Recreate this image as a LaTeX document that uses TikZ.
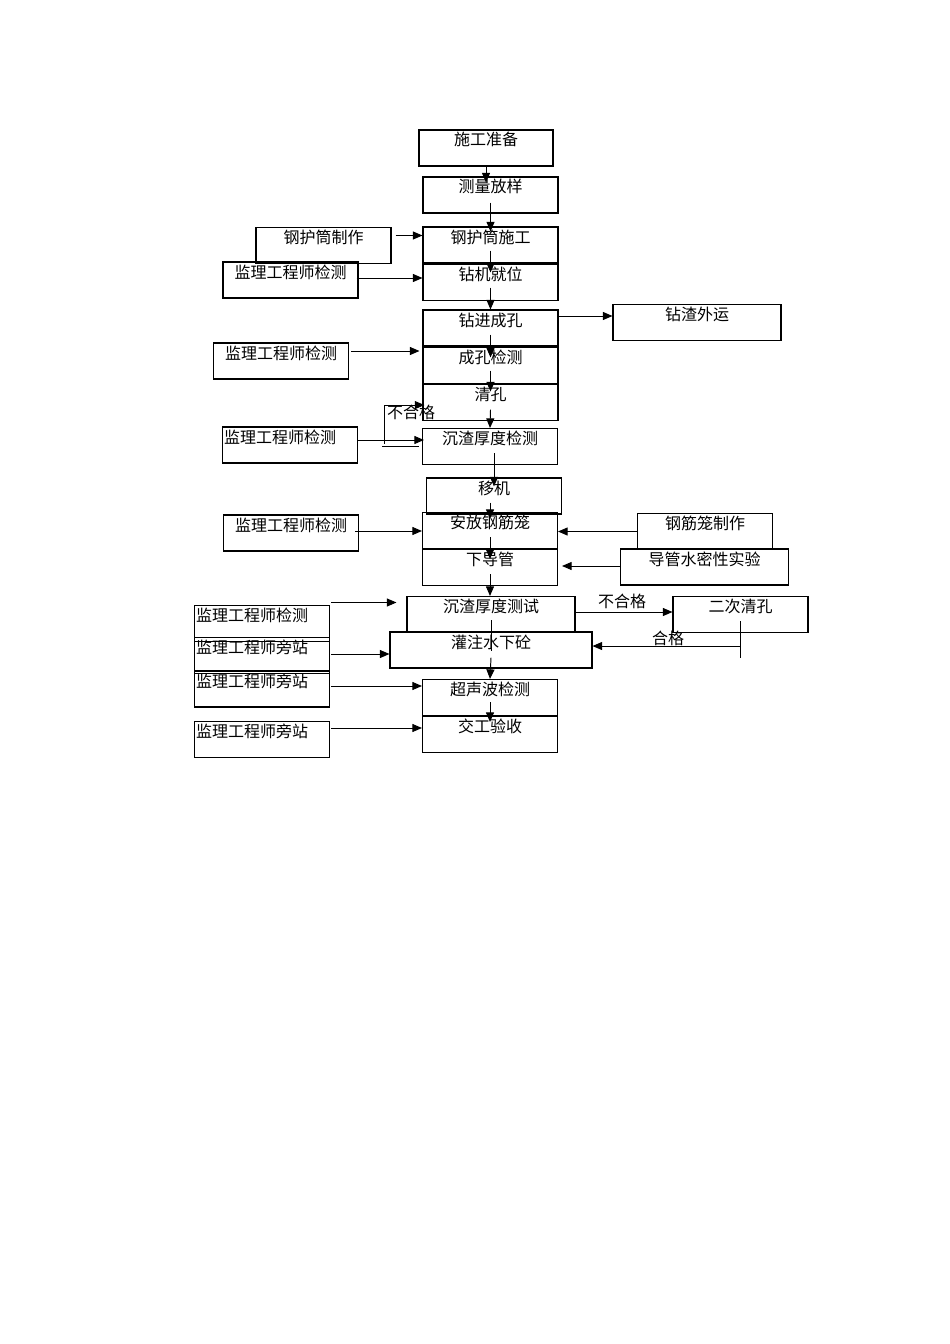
\documentclass[tikz,border=0pt]{standalone}
\usepackage{fontspec}
\newfontfamily\cjk{Noto Sans CJK SC}
\usetikzlibrary{arrows.meta, positioning, calc}
\newlength\px
\setlength\px{0.625pt}

\begin{document}
\begin{tikzpicture}[
    x=0.625pt, y=-0.625pt,
    every node/.style={font=\cjk\fontsize{10}{12}\selectfont},
    box/.style={draw, line width=0.65pt, inner sep=0pt, minimum width=135\px, minimum height=36\px, text height=9pt, text depth=11.5pt},
    wide/.style={box, minimum width=168\px},
    lbox/.style={box, inner xsep=1\px, text width=132\px, align=left},
    arr/.style={-{Triangle[length=6pt,width=5pt]}, line width=0.6pt},
    link/.style={line width=0.6pt}
]
\useasboundingbox (0,0) rectangle (950,1344);

\node[box, minimum width=134\px] (prep) at (486,148) {施工准备};
\node[box] (survey) at (490.5,195) {测量放样};
\node[box] (casing) at (490.5,245) {钢护筒施工};
\node[box, below=0pt of casing] (rig) {钻机就位};
\node[box] (casemake) at (323.5,245.5) {钢护筒制作};
\node[box] (mon1) at (290.5,280) {监理工程师检测};

\node[box] (drill) at (490.5,328) {钻进成孔};
\node[box, below=0pt of drill] (holechk) {成孔检测};
\node[box, below=0pt of holechk] (clean) {清孔};
\node[wide] (spoil) at (697,322.5) {钻渣外运};
\node[box] (mon2) at (281,361) {监理工程师检测};
\node[lbox] (mon3) at (290,445) {监理工程师检测};
\node[box] (sedi) at (490,446.5) {沉渣厚度检测};

\node[box] (move) at (494,496) {移机};
\node[box] (cage) at (490,530.5) {安放钢筋笼};
\node[box, below=0pt of cage] (tube) {下导管};
\node[box] (cagemake) at (705,531.5) {钢筋笼制作};
\node[box] (mon4) at (291,533) {监理工程师检测};
\node[wide] (tubetest) at (704.5,567) {导管水密性实验};

\node[wide] (sedi2) at (491,614.5) {沉渣厚度测试};
\node[box] (reclean) at (740.5,614.5) {二次清孔};
\node[box, minimum width=202\px] (pour) at (491,650) {灌注水下砼};
\node[lbox] (mon5) at (262,623.5) {监理工程师检测};
\node[lbox] (mon6) at (262,655.5) {监理工程师旁站};
\node[lbox] (mon7) at (262,689) {监理工程师旁站};
\node[lbox] (mon8) at (262,739.5) {监理工程师旁站};
\node[box] (ultra) at (490,697.5) {超声波检测};
\node[box, below=0pt of ultra] (accept) {交工验收};

\draw[arr] (prep.south) -- ($(prep.south |- survey.north)+(0,6)$);
\draw[arr] ($(survey.south)+(0,-11)$) -- ($(casing.north)+(0,5)$);
\draw[arr] ($(casing.south)+(0,-13)$) -- ($(rig.north)+(0,9)$);
\draw[arr] ($(rig.south)+(0,-13)$) -- (drill.north);
\draw[arr] ($(drill.south)+(0,-12)$) -- ($(holechk.north)+(0,11)$);
\draw[arr] ($(holechk.south)+(0,-13)$) -- ($(clean.north)+(0,8)$);
\draw[arr] ($(clean.south)+(0,-11)$) -- (sedi.north);
\draw[arr] ($(sedi.south)+(4,-12)$) -- ($(move.north)+(0,9)$);
\draw[arr] ($(move.south)+(-4,-12)$) -- ($(cage.north)+(0,7)$);
\draw[arr] ($(cage.south)+(0,-12)$) -- ($(tube.north)+(0,10)$);
\draw[arr] ($(tube.south)+(0,-12)$) -- (tube.south |- sedi2.north);
\draw[link] ($(sedi2.south)+(0,-13)$) -- ($(pour.north)+(0,20)$);
\draw[arr] ($(pour.south)+(0,-11)$) -- (ultra.north);
\draw[arr] ($(ultra.south)+(0,-14)$) -- ($(accept.north)+(0,6)$);

\draw[arr] ($(casemake.east)+(4,-10)$) coordinate (p1) -- (p1 -| casing.west);
\draw[arr] ($(mon1.east)+(-2,-2)$) coordinate (p2) -- (p2 -| rig.west);
\draw[arr] ($(drill.east)+(0,-12)$) coordinate (p3) -- (p3 -| spoil.west);
\draw[arr] ($(mon2.east)+(2,-10)$) coordinate (p4) -- ($(p4 -| holechk.west)+(-3,0)$);
\draw[arr] ($(mon3.east)+(0,-5)$) coordinate (p5) -- ($(p5 -| sedi.west)+(2,0)$);
\draw[link] ($(sedi.west)+(-3,0)$) -- ++(-37,0);
\draw[arr] ($(sedi.west)+(-38,-3)$) |- ($(clean.west)+(2,3)$);
\node (fail1) at (411,412) {不合格};

\draw[arr] ($(mon4.east)+(-4,-2)$) coordinate (p6) -- (p6 -| cage.west);
\draw[arr] (cagemake.west) -- (cagemake.west -| cage.east);
\draw[arr] ($(tubetest.west)+(0,-1)$) coordinate (p7) -- ($(p7 -| tube.east)+(4,0)$);

\draw[arr] ($(mon5.east)+(1,-21)$) coordinate (p8) -- ($(p8 -| sedi2.west)+(-10,0)$);
\draw[arr] ($(sedi2.east)+(0,-2.5)$) coordinate (p9) -- (p9 -| reclean.west);
\node (fail2) at (622,601) {不合格};
\draw[link] ($(reclean.south)+(-0.5,-12)$) -- ++(0,37);
\draw[arr] ($(reclean.south)+(-0.5,13)$) coordinate (p10) -- (p10 -| pour.east);
\node (pass) at (668,638) {合格};
\draw[arr] ($(mon6.east)+(1,-1.5)$) coordinate (p11) -- (p11 -| pour.west);
\draw[arr] ($(mon7.east)+(1,-3)$) coordinate (p12) -- (p12 -| ultra.west);
\draw[arr] ($(mon8.east)+(1,-11.5)$) coordinate (p13) -- (p13 -| accept.west);

\end{tikzpicture}
\end{document}
